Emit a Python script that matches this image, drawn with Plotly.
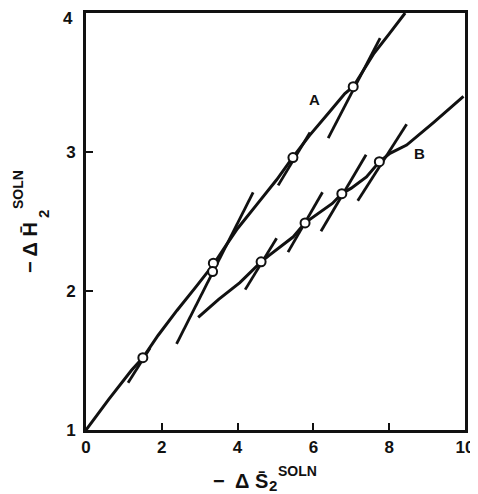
import plotly.graph_objects as go

# ---- data ----
curve_a_x = [0.0, 0.6, 1.2, 1.5, 1.9, 2.4, 2.9, 3.36, 3.7, 4.0, 4.5, 5.03, 5.45, 5.9, 6.4, 6.83, 7.05, 7.6, 8.0, 8.42]
curve_a_y = [1.0, 1.22, 1.43, 1.52, 1.68, 1.86, 2.03, 2.19, 2.33, 2.45, 2.62, 2.80, 2.96, 3.12, 3.28, 3.42, 3.47, 3.71, 3.85, 4.0]

curve_b_x = [2.96, 3.5, 4.06, 4.35, 4.62, 4.85, 5.47, 5.78, 6.09, 6.5, 6.75, 7.0, 7.4, 7.74, 8.02, 8.46, 9.16, 9.96]
curve_b_y = [1.81, 1.94, 2.06, 2.14, 2.21, 2.26, 2.39, 2.49, 2.55, 2.63, 2.70, 2.74, 2.82, 2.93, 2.99, 3.05, 3.21, 3.40]

circle_x = [1.5, 3.36, 3.34, 5.46, 7.05, 4.62, 5.78, 6.75, 7.74]
circle_y = [1.52, 2.20, 2.14, 2.96, 3.47, 2.21, 2.49, 2.70, 2.93]

# tangent segments (start x, start y, end x, end y)
tan_x0 = [1.11, 2.39, 5.07, 6.39, 4.20, 5.33, 6.20, 7.17]
tan_y0 = [1.34, 1.62, 2.76, 3.10, 2.01, 2.28, 2.43, 2.65]
tan_x1 = [1.69, 4.41, 5.91, 7.76, 5.03, 6.24, 7.39, 8.46]
tan_y1 = [1.59, 2.71, 3.14, 3.82, 2.38, 2.71, 2.98, 3.20]

x_ticks = [0, 2, 4, 6, 8, 10]
y_ticks = [1, 2, 3, 4]
curve_labels = ["A", "B"]
label_x = [6.04, 8.81]
label_y = [3.38, 2.99]

FONT = "Liberation Sans"
INK = "#111111"

# plot area in page pixels (used only to place the axis-title pieces)
PL, PR, PT, PB = 86, 465, 13, 430
def px(x):
    return (x - PL) / (PR - PL)
def py(y):
    return (PB - y) / (PB - PT)

seg_x, seg_y = [], []
for a, b, c, d in zip(tan_x0, tan_y0, tan_x1, tan_y1):
    seg_x += [a, c, None]
    seg_y += [b, d, None]

fig = go.Figure()
fig.add_trace(go.Scatter(x=seg_x, y=seg_y, mode="lines",
                         line=dict(color=INK, width=2.8), hoverinfo="skip"))
fig.add_trace(go.Scatter(x=curve_a_x, y=curve_a_y, mode="lines",
                         line=dict(color=INK, width=3)))
fig.add_trace(go.Scatter(x=curve_b_x, y=curve_b_y, mode="lines",
                         line=dict(color=INK, width=3)))
fig.add_trace(go.Scatter(x=circle_x, y=circle_y, mode="markers",
                         marker=dict(symbol="circle", size=9, color="white",
                                     line=dict(color=INK, width=2))))

for t, x, y in zip(curve_labels, label_x, label_y):
    fig.add_annotation(x=x, y=y, text=f"<b>{t}</b>", showarrow=False,
                       font=dict(family=FONT, size=15, color=INK))

# top y tick label sits a little below its tick in the reference
top_y = y_ticks[-1]
fig.add_annotation(xref="paper", yref="y", x=0, y=top_y, xanchor="right", yanchor="middle",
                   xshift=-11, yshift=-5, text=f"<b>{top_y}</b>", showarrow=False,
                   font=dict(family=FONT, size=17, color=INK))

# x axis title pieces
fig.add_annotation(xref="paper", yref="paper", x=px(240), y=py(481),
                   text="<b>\u2212  \u0394 S\u0304</b>", showarrow=False, xanchor="center", yanchor="middle",
                   font=dict(family=FONT, size=20, color=INK))
fig.add_annotation(xref="paper", yref="paper", x=px(267), y=py(485),
                   text="<b>2</b>", showarrow=False, xanchor="left", yanchor="middle",
                   font=dict(family=FONT, size=15, color=INK))
fig.add_annotation(xref="paper", yref="paper", x=px(276), y=py(471),
                   text="<b>SOLN</b>", showarrow=False, xanchor="left", yanchor="middle",
                   font=dict(family=FONT, size=14, color=INK))

# y axis title pieces (rotated)
fig.add_annotation(xref="paper", yref="paper", x=px(30), y=py(248),
                   text="<b>\u2212 \u0394 H\u0304</b>", showarrow=False, textangle=-90,
                   xanchor="center", yanchor="middle",
                   font=dict(family=FONT, size=20, color=INK))
fig.add_annotation(xref="paper", yref="paper", x=px(43), y=py(214),
                   text="<b>2</b>", showarrow=False, textangle=-90,
                   xanchor="center", yanchor="middle",
                   font=dict(family=FONT, size=15, color=INK))
fig.add_annotation(xref="paper", yref="paper", x=px(18), y=py(190),
                   text="<b>SOLN</b>", showarrow=False, textangle=-90,
                   xanchor="center", yanchor="middle",
                   font=dict(family=FONT, size=14, color=INK))

axis_common = dict(showgrid=False, zeroline=False, showline=True, mirror=True,
                   linecolor=INK, linewidth=3, ticks="inside", ticklen=7,
                   tickwidth=2, tickcolor=INK, automargin=False,
                   ticklabeloverflow="allow",
                   tickfont=dict(family=FONT, size=17, color=INK))

fig.update_xaxes(range=[0, 10], tickvals=x_ticks,
                 ticktext=[f"<b>{v}</b>" for v in x_ticks], **axis_common)
fig.update_yaxes(range=[1, 4], tickvals=y_ticks, ticklabelstandoff=4,
                 ticktext=[f"<b>{v}</b>" if v != top_y else "" for v in y_ticks],
                 **axis_common)

# the page body adds an 8px offset, so the figure is sized to compensate
fig.update_layout(width=470, height=486, showlegend=False,
                  margin=dict(l=78, r=13, t=5, b=64),
                  paper_bgcolor="white", plot_bgcolor="white")

fig.write_html("out.html")
